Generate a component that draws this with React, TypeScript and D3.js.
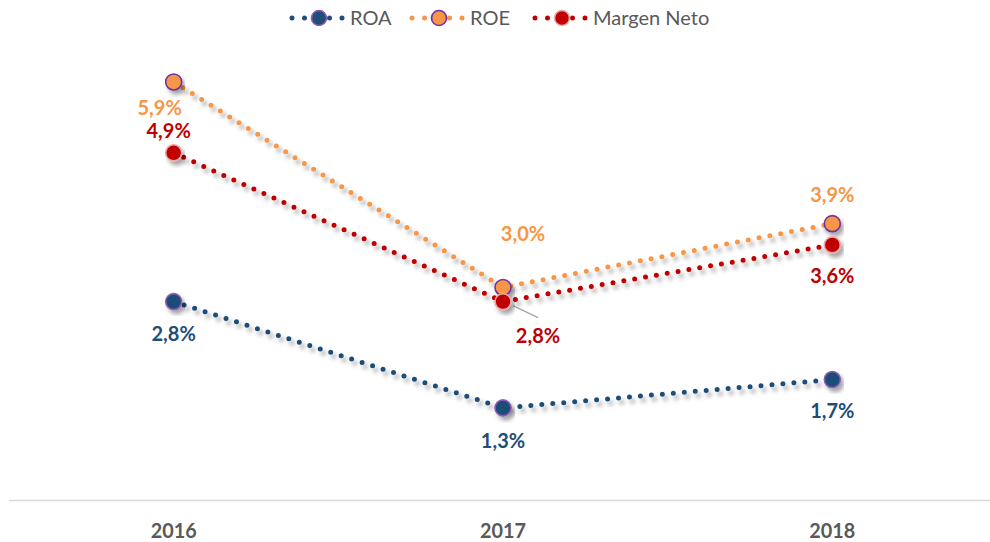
import React from 'react';
import * as d3 from 'd3';

const years = ['2016', '2017', '2018'];
const roa = [0.028, 0.013, 0.017];
const roe = [0.059, 0.030, 0.039];
const margenNeto = [0.049, 0.028, 0.036];

// label offsets from the point (baseline centre), by series
const roaLabelOffsets = [[0, 39], [0, 40], [0, 38]];
const roeLabelOffsets = [[-14, 33], [20, -46], [0, -22]];
const margenLabelOffsets = [[-5, -15], [35, 41], [0, 38]];

const width = 990;
const height = 542;

const series = [
  { name: 'ROA', values: roa, color: '#1F4E79', fill: '#1F4E79', stroke: '#8E5BB5', offsets: roaLabelOffsets, legendX: 350 },
  { name: 'ROE', values: roe, color: '#F79646', fill: '#F79646', stroke: '#7030A0', offsets: roeLabelOffsets, legendX: 470 },
  { name: 'Margen Neto', values: margenNeto, color: '#C00000', fill: '#C00000', stroke: '#E8A9A9', offsets: margenLabelOffsets, legendX: 593 },
];

const fmt = (v: number) => (v * 100).toFixed(1).replace('.', ',') + '%';

export default function App() {
  const x = d3.scaleBand().domain(years).range([9, 997]);
  const y = d3.scaleLinear().domain([0, 0.07]).range([500, 4]);
  const cx = (d: string) => (x(d) as number) + x.bandwidth() / 2;

  const line = d3.line<number>()
    .x((d, i) => cx(years[i]))
    .y(d => y(d));

  const labelFont = "Lato, 'Open Sans', sans-serif";

  return (
    <svg width={width} height={height} style={{ position: 'absolute', left: 0, top: 0, background: '#fff' }}>
      <defs>
        <filter id="shadow" x="-20%" y="-20%" width="140%" height="160%">
          <feDropShadow dx="3" dy="4" stdDeviation="2" floodColor="#000" floodOpacity="0.35" />
        </filter>
      </defs>

      {/* axis line */}
      <line x1={9} x2={997} y1={500.5} y2={500.5} stroke="#D9D9D9" strokeWidth={1.5} />
      {years.map(yr => (
        <text key={yr} x={cx(yr)} y={538} textAnchor="middle" fontFamily={labelFont}
          fontWeight="bold" fontSize={21.5} fill="#595959" textLength={46} lengthAdjust="spacingAndGlyphs">
          {yr}
        </text>
      ))}

      {/* lines */}
      {series.map(s => (
        <path key={s.name + '-line'} d={line(s.values) || ''} fill="none" stroke={s.color}
          strokeWidth={5} strokeLinecap="round" strokeDasharray="0 11" filter="url(#shadow)" />
      ))}

      {/* leader line for margen 2017 */}
      <line x1={cx('2017') + 10} y1={y(margenNeto[1]) + 4} x2={cx('2017') + 35} y2={y(margenNeto[1]) + 16}
        stroke="#A6A6A6" strokeWidth={1.2} />

      {/* markers */}
      {series.map(s => s.values.map((v, i) => (
        <circle key={s.name + i} cx={cx(years[i])} cy={y(v)} r={8} fill={s.fill}
          stroke={s.stroke} strokeWidth={1.6} filter="url(#shadow)" />
      )))}

      {/* data labels */}
      {series.map(s => s.values.map((v, i) => (
        <text key={s.name + 'l' + i} x={cx(years[i]) + s.offsets[i][0]} y={y(v) + s.offsets[i][1]}
          textAnchor="middle" fontFamily={labelFont} fontWeight="bold" fontSize={20} fill={s.color}>
          {fmt(v)}
        </text>
      )))}

      {/* legend */}
      {series.map(s => (
        <g key={s.name + '-legend'}>
          <line x1={s.legendX - 58} x2={s.legendX - 6} y1={18} y2={18} stroke={s.color}
            strokeWidth={5} strokeLinecap="round" strokeDasharray="0 12.5" />
          <circle cx={s.legendX - 31} cy={18} r={7.5} fill={s.fill} stroke={s.stroke} strokeWidth={1.6} />
          <text x={s.legendX} y={25} fontFamily={labelFont} fontSize={20} fill="#595959">{s.name}</text>
        </g>
      ))}
    </svg>
  );
}
